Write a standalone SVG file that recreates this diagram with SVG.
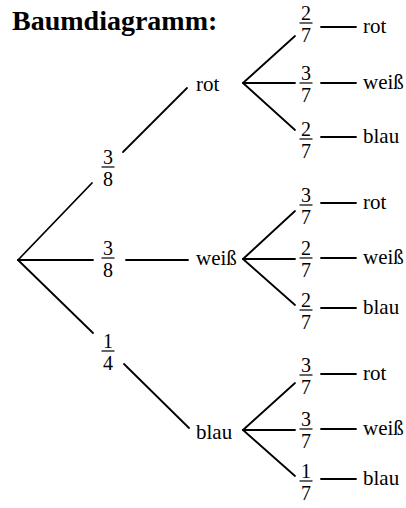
<svg xmlns="http://www.w3.org/2000/svg" width="406" height="508" viewBox="0 0 406 508">
  <style>
    .title { font-family: "Liberation Serif", "Times New Roman", serif; font-weight: bold; font-size: 28px; fill: #000; }
    .lbl { font-family: "Liberation Serif", "Times New Roman", serif; font-size: 21px; fill: #000; }
    .num { font-family: "Liberation Serif", "Times New Roman", serif; font-size: 20px; fill: #000; text-anchor: middle; }
    .edge { stroke: #000; stroke-width: 1.8; fill: none; stroke-linecap: round; }
    .bar { stroke: #000; stroke-width: 1.2; }
  </style>
  <defs>
    <!-- fraction bar centred on 0,0 -->
    <line id="fbar" x1="-6.5" y1="0" x2="6.5" y2="0" class="bar"/>
  </defs>
  <rect width="406" height="508" fill="#fff"/>

  <text class="title" x="12" y="30">Baumdiagramm:</text>

  <!-- branches -->
  <g id="connectors">
    <!-- first level -->
    <line class="edge" x1="18" y1="260" x2="92" y2="183"/>
    <line class="edge" x1="123" y1="152" x2="187" y2="88"/>
    <line class="edge" x1="18" y1="260" x2="93" y2="260"/>
    <line class="edge" x1="126" y1="260" x2="188" y2="260"/>
    <line class="edge" x1="18" y1="260" x2="93" y2="333"/>
    <line class="edge" x1="124" y1="364" x2="189" y2="428"/>
    <!-- second level: after rot -->
    <line class="edge" x1="243" y1="83" x2="295" y2="36"/>
    <line class="edge" x1="243" y1="83" x2="295" y2="83"/>
    <line class="edge" x1="243" y1="83" x2="295" y2="130"/>
    <!-- second level: after weiß -->
    <line class="edge" x1="243" y1="259" x2="295" y2="211"/>
    <line class="edge" x1="243" y1="259" x2="295" y2="259"/>
    <line class="edge" x1="243" y1="259" x2="295" y2="305"/>
    <!-- second level: after blau -->
    <line class="edge" x1="243" y1="430" x2="295" y2="383"/>
    <line class="edge" x1="243" y1="430" x2="295" y2="430"/>
    <line class="edge" x1="243" y1="430" x2="295" y2="476"/>
    <!-- leaf dashes -->
    <line class="edge" x1="321" y1="27" x2="356" y2="27"/>
    <line class="edge" x1="321" y1="83" x2="356" y2="83"/>
    <line class="edge" x1="321" y1="137" x2="356" y2="137"/>
    <line class="edge" x1="321" y1="203" x2="356" y2="203"/>
    <line class="edge" x1="321" y1="258" x2="356" y2="258"/>
    <line class="edge" x1="321" y1="308" x2="356" y2="308"/>
    <line class="edge" x1="321" y1="374" x2="356" y2="374"/>
    <line class="edge" x1="321" y1="429" x2="356" y2="429"/>
    <line class="edge" x1="321" y1="479" x2="356" y2="479"/>
  </g>

  <!-- first-level probabilities -->
  <g id="p-rot"><use href="#fbar" x="108" y="167"/><text class="num" x="108" y="164">3</text><text class="num" x="108" y="186">8</text></g>
  <g id="p-weiss"><use href="#fbar" x="108" y="258"/><text class="num" x="108" y="255">3</text><text class="num" x="108" y="277">8</text></g>
  <g id="p-blau"><use href="#fbar" x="108" y="351"/><text class="num" x="108" y="348">1</text><text class="num" x="108" y="370">4</text></g>

  <!-- first-level outcomes -->
  <g id="n-rot"><text class="lbl" x="196" y="91">rot</text></g>
  <g id="n-weiss"><text class="lbl" x="196" y="265">weiß</text></g>
  <g id="n-blau"><text class="lbl" x="196" y="439">blau</text></g>

  <!-- second level after rot -->
  <g id="rr"><use href="#fbar" x="306" y="23"/><text class="num" x="306" y="20">2</text><text class="num" x="306" y="42">7</text><text class="lbl" x="363" y="33">rot</text></g>
  <g id="rw"><use href="#fbar" x="306" y="83"/><text class="num" x="306" y="80">3</text><text class="num" x="306" y="102">7</text><text class="lbl" x="363" y="89">weiß</text></g>
  <g id="rb"><use href="#fbar" x="306" y="139"/><text class="num" x="306" y="136">2</text><text class="num" x="306" y="158">7</text><text class="lbl" x="363" y="143">blau</text></g>

  <!-- second level after weiß -->
  <g id="wr"><use href="#fbar" x="306" y="205"/><text class="num" x="306" y="202">3</text><text class="num" x="306" y="224">7</text><text class="lbl" x="363" y="209">rot</text></g>
  <g id="ww"><use href="#fbar" x="306" y="258"/><text class="num" x="306" y="255">2</text><text class="num" x="306" y="277">7</text><text class="lbl" x="363" y="264">weiß</text></g>
  <g id="wb"><use href="#fbar" x="306" y="310"/><text class="num" x="306" y="307">2</text><text class="num" x="306" y="329">7</text><text class="lbl" x="363" y="314">blau</text></g>

  <!-- second level after blau -->
  <g id="br"><use href="#fbar" x="306" y="375"/><text class="num" x="306" y="372">3</text><text class="num" x="306" y="394">7</text><text class="lbl" x="363" y="380">rot</text></g>
  <g id="bw"><use href="#fbar" x="306" y="429"/><text class="num" x="306" y="426">3</text><text class="num" x="306" y="448">7</text><text class="lbl" x="363" y="435">weiß</text></g>
  <g id="bb"><use href="#fbar" x="306" y="481"/><text class="num" x="306" y="478">1</text><text class="num" x="306" y="500">7</text><text class="lbl" x="363" y="485">blau</text></g>
</svg>
